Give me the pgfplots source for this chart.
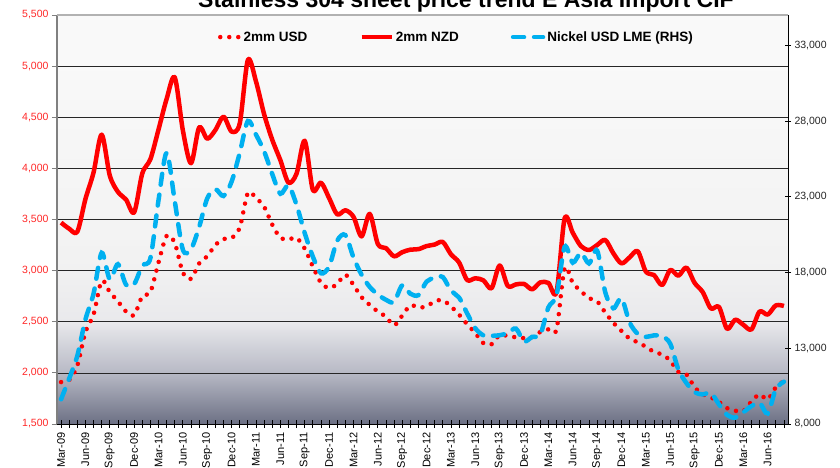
\documentclass[border=0pt]{standalone}
\usepackage{fontspec}
\setmainfont{Liberation Sans}
\usepackage{pgfplots}
\usepackage{pgfplotstable}
\pgfplotsset{compat=1.18}
\definecolor{bgA}{RGB}{108,112,132}
\definecolor{bgB}{RGB}{183,185,197}
\definecolor{bgC}{RGB}{233,233,236}
\definecolor{bgD}{RGB}{242,242,242}
\definecolor{bgE}{RGB}{249,249,249}
\definecolor{nickel}{RGB}{0,176,240}
\definecolor{usdred}{RGB}{255,0,0}
\definecolor{lbl}{RGB}{255,40,40}
\pgfdeclareverticalshading{bgshade}{100bp}{color(0bp)=(bgA); color(25bp)=(bgA); color(31.25bp)=(bgB); color(37.5bp)=(bgC); color(45bp)=(bgD); color(70bp)=(bgE); color(75bp)=(bgE); color(100bp)=(bgE)}

\pgfplotstableread{
i usd nzd ni
0 1910 3470 9630
1 1930 3410 11000
2 2070 3380 12500
3 2400 3700 14900
4 2570 3960 16600
5 2900 4330 19300
6 2790 3930 17550
7 2700 3770 18550
8 2600 3695 17200
9 2565 3570 17240
10 2750 3950 18450
11 2790 4090 18950
12 3080 4380 22780
13 3340 4680 25900
14 3270 4890 22700
15 2980 4370 19500
16 2920 4050 19550
17 3070 4400 21000
18 3140 4290 22900
19 3250 4375 23500
20 3310 4505 23050
21 3320 4360 24000
22 3420 4440 25900
23 3760 5060 28000
24 3710 4850 27100
25 3625 4530 26000
26 3450 4280 24500
27 3320 4080 23200
28 3305 3860 23750
29 3320 3950 22450
30 3215 4270 20600
31 3040 3790 19050
32 2880 3860 17950
33 2830 3710 18400
34 2870 3550 20100
35 2960 3590 20470
36 2860 3527 19000
37 2740 3335 17850
38 2665 3555 17050
39 2600 3260 16550
40 2550 3220 16200
41 2465 3140 16050
42 2560 3180 17150
43 2660 3205 16600
44 2640 3210 16510
45 2650 3240 17400
46 2700 3255 17650
47 2710 3280 17700
48 2650 3160 16800
49 2570 3080 16350
50 2475 2908 15300
51 2390 2925 14320
52 2290 2905 13850
53 2280 2827 13820
54 2370 3050 13860
55 2360 2850 14000
56 2348 2865 14300
57 2340 2870 13450
58 2350 2817 13750
59 2400 2885 13900
60 2426 2880 15700
61 2426 2790 16500
62 3023 3511 19700
63 2880 3370 18650
64 2800 3240 19300
65 2730 3202 18600
66 2700 3250 19450
67 2590 3300 16700
68 2490 3169 15640
69 2410 3071 16300
70 2335 3130 14700
71 2300 3190 13950
72 2255 2990 13750
73 2205 2957 13850
74 2180 2859 13800
75 2120 3006 13300
76 2010 2950 11600
77 1985 3030 10700
78 1860 2880 10100
79 1790 2790 9950
80 1760 2630 10050
81 1715 2645 9300
82 1655 2430 8600
83 1630 2520 8420
84 1625 2470 8780
85 1720 2425 9180
86 1790 2600 9400
87 1740 2570 8700
88 1860 2660 10300
89 1920 2654 10790
}\data

\begin{document}
\begin{tikzpicture}
\begin{axis}[
  name=main, at={(0,0)}, anchor=south west,
  scale only axis, width=731pt, height=409pt,
  xmin=-0.5, xmax=89.5, ymin=1500, ymax=5500,
  axis x line*=bottom, axis y line*=left,
  x axis line style={-, black, line width=1pt},
  y axis line style={-, black!50, line width=1.5pt},
  axis background/.style={shade, shading=bgshade},
  tick align=outside,
  major tick length=5pt, minor tick length=8pt,
  xtick={0,3,...,87},
  minor xtick={0,...,89},
  major x tick style={draw=none},
  minor x tick style={black, line width=0.8pt, yshift=4pt},
  xticklabels={Mar-09,Jun-09,Sep-09,Dec-09,Mar-10,Jun-10,Sep-10,Dec-10,Mar-11,Jun-11,Sep-11,Dec-11,Mar-12,Jun-12,Sep-12,Dec-12,Mar-13,Jun-13,Sep-13,Dec-13,Mar-14,Jun-14,Sep-14,Dec-14,Mar-15,Jun-15,Sep-15,Dec-15,Mar-16,Jun-16},
  xticklabel style={rotate=90, anchor=east, font=\fontsize{11}{13}\selectfont},
  ytick={1500,2000,...,5000},
  extra y ticks={5500},
  extra y tick style={grid=none},
  ytick style={black!50, line width=0.8pt},
  yticklabel style={font=\fontsize{10.5}{12}\selectfont, text=lbl},
  scaled y ticks=false,
  /pgf/number format/1000 sep={,},
  /pgf/number format/assume math mode=true,
  ymajorgrids,
  major grid style={black!85, line width=0.6pt},
]
\draw[black!30, line width=1.2pt] (rel axis cs:0,1) -- (rel axis cs:1,1);
\addplot[usdred, line width=4.5pt, line cap=round, dash pattern=on 0pt off 9pt, smooth] table[x=i, y=usd] {\data};
\addplot[usdred, line width=4.5pt, line join=round, smooth] table[x=i, y=nzd] {\data};
\end{axis}
\begin{axis}[
  at={(0,0)}, anchor=south west,
  scale only axis, width=731pt, height=409pt,
  xmin=-0.5, xmax=89.5, ymin=8000, ymax=35000,
  axis y line*=right, axis x line=none, xtick=\empty,
  y axis line style={-, black, line width=1pt},
  tick align=center, major tick length=6pt,
  ytick={8000,13000,...,33000},
  ytick style={black, line width=0.8pt},
  yticklabel style={font=\fontsize{10.5}{12}\selectfont, text=black!85},
  scaled y ticks=false,
  /pgf/number format/1000 sep={,},
  /pgf/number format/assume math mode=true,
  legend style={at={(0.22,0.946)}, anchor=west, draw=none, fill=none,
    font=\bfseries\fontsize{13.5}{16}\selectfont, inner sep=0pt,
    /tikz/every even column/.append style={column sep=50pt}},
  legend columns=3,
  legend image code/.code={\draw[#1] (0pt,0pt) -- (30pt,0pt);},
]
\addlegendimage{legend image code/.code={\draw[usdred, line width=4.5pt, line cap=round, dash pattern=on 0pt off 9pt] (3pt,0pt) -- (22pt,0pt);}}
\addlegendentry{2mm USD}
\addlegendimage{usdred, line width=4.5pt}
\addlegendentry{2mm NZD}
\addplot[nickel, line width=4.5pt, line cap=round, dash pattern=on 11pt off 10pt, smooth] table[x=i, y=ni] {\data};
\addlegendentry{Nickel USD LME (RHS)}
\end{axis}
\node[anchor=base, font=\bfseries\fontsize{23}{27}\selectfont] at ([xshift=409pt,yshift=7pt]main.north west) {Stainless 304 sheet price trend E Asia Import CIF};
\pgfresetboundingbox
\path ([xshift=-57pt,yshift=-43pt]main.south west) rectangle ([xshift=52pt,yshift=15pt]main.north east);
\end{tikzpicture}
\end{document}
